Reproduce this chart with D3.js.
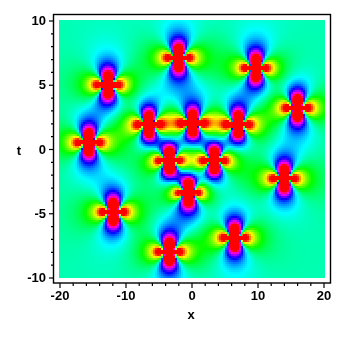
<!DOCTYPE html>
<html>
<head>
<meta charset="utf-8">
<script src="https://cdnjs.cloudflare.com/ajax/libs/d3/7.8.5/d3.min.js"></script>
<style>
html, body { margin: 0; padding: 0; background: #fff; }
#wrap { position: relative; width: 357px; height: 337px; overflow: hidden; }
canvas, svg { position: absolute; left: 0; top: 0; }
text { font-family: "Liberation Sans", Arial, sans-serif; font-weight: bold; font-size: 13px; fill: #000; }
</style>
</head>
<body>
<div id="wrap"><canvas id="heat" width="357" height="337"></canvas><svg id="chart" width="357" height="337"></svg></div>
<script>
// lump centres
var lumpX = [-12.7, -2, 9.7, 16, -6.5, 0.15, 7, -15.6, -3.4, 3.4, 14, -0.5, -11.9, -3.4, 6.5];
var lumpT = [5, 7.1, 6.3, 3.2, 1.9, 2, 1.9, 0.5, -0.9, -0.9, -2.3, -3.4, -4.9, -8, -6.9];
var xMajor = [-20, -10, 0, 10, 20];
var xMinor = [-18, -16, -14, -12, -8, -6, -4, -2, 2, 4, 6, 8, 12, 14, 16, 18];
var tMajor = [-10, -5, 0, 5, 10];
var tMinor = [-9, -8, -7, -6, -4, -3, -2, -1, 1, 2, 3, 4, 6, 7, 8, 9];

var x = d3.scaleLinear().domain([-20, 20]).range([59.5, 323.5]);
var y = d3.scaleLinear().domain([-10, 10]).range([277.5, 20.5]);

// the density itself can't be read per pixel, so it is rebuilt from the lump centres above
var bg = 0.45, ampT = 2.9, ampX = 3.4, core = 0.7, bump = 2.2, fade = 45;
function field(px, pt) {
    var v = bg;
    for (var i = 0; i < lumpX.length; i++) {
        var a = px - lumpX[i];
        var b = (pt - lumpT[i]) / 0.52;
        if (a * a / 2.4 + b * b / 0.2 < 1) return 0; //red link across the middle of the cross
        var r = a * a + b * b + core;
        v += (ampT * b * b - ampX * a * a + bump) / (r * r * (1 + r / fade));
    }
    return Math.max(0, Math.min(1, v));
}

var ctx = document.getElementById("heat").getContext("2d");
var cell = 2;
for (var py = 20; py < 278; py += cell) {
    for (var px = 59; px < 325; px += cell) {
        var v = field(x.invert(px + cell / 2), y.invert(py + cell / 2));
        ctx.fillStyle = d3.hsl(v * 360, 1, 0.5).formatRgb();
        ctx.fillRect(px, py, cell, cell);
    }
}

var svg = d3.select("#chart");
svg.append("rect").attr("x", 53.5).attr("y", 14.5).attr("width", 277).attr("height", 268.5)
    .attr("fill", "none").attr("stroke", "#000").attr("stroke-width", 1.4);

function style(g) {
    g.select(".domain").remove();
    g.selectAll("line").attr("stroke", "#000").attr("stroke-width", 1.2);
}
svg.append("g").attr("transform", "translate(0,283)")
    .call(d3.axisBottom(x).tickValues(xMajor).tickSize(5).tickPadding(3).tickFormat(String)).call(style);
svg.append("g").attr("transform", "translate(0,283)")
    .call(d3.axisBottom(x).tickValues(xMinor).tickSize(3).tickFormat("")).call(style);
svg.append("g").attr("transform", "translate(53,0)")
    .call(d3.axisLeft(y).tickValues(tMajor).tickSize(4).tickPadding(3).tickFormat(String)).call(style);
svg.append("g").attr("transform", "translate(53,0)")
    .call(d3.axisLeft(y).tickValues(tMinor).tickSize(2).tickFormat("")).call(style);
svg.selectAll("g text").style("font-size", "13px").attr("fill", "#000");

svg.append("text").attr("x", 191).attr("y", 319).attr("text-anchor", "middle").text("x");
svg.append("text").attr("x", 19).attr("y", 155).attr("text-anchor", "middle").text("t");
</script>
</body>
</html>
